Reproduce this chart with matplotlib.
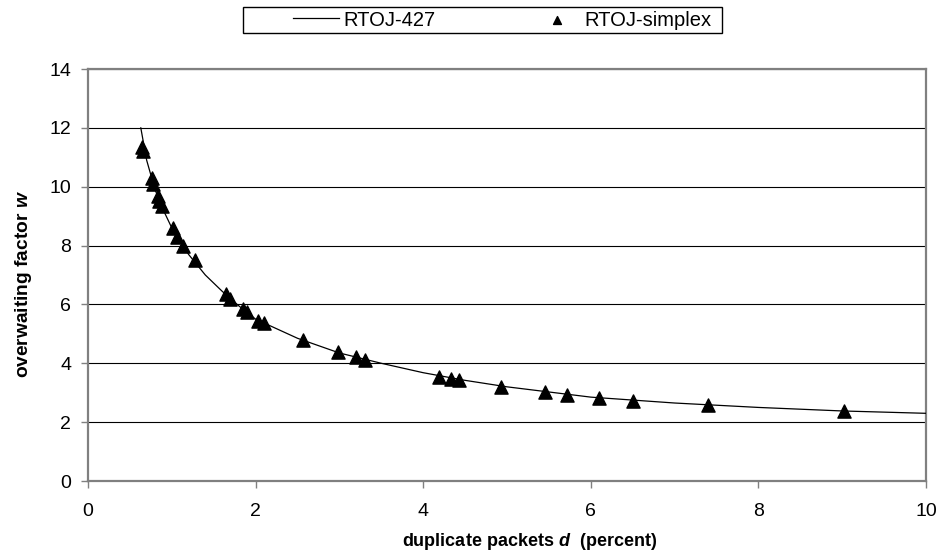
import matplotlib
matplotlib.use("Agg")
from matplotlib import pyplot as plt
from matplotlib.patches import Rectangle

# RTOJ-427 curve
curve_d = [0.63, 0.7, 0.8, 0.9, 1.0, 1.2, 1.4, 1.6, 1.8, 2.0, 2.5, 3.0,
           3.5, 4.0, 4.5, 5.0, 6.0, 7.0, 8.0, 9.0, 10.0]
curve_w = [12.0, 10.9, 9.9, 9.2, 8.6, 7.7, 7.0, 6.45, 5.95, 5.5, 4.85, 4.35,
           4.0, 3.68, 3.42, 3.2, 2.85, 2.65, 2.5, 2.38, 2.3]

# RTOJ-simplex points
simplex_d = [0.65, 0.66, 0.76, 0.78, 0.83, 0.85, 0.88, 1.01, 1.06, 1.13,
             1.28, 1.65, 1.70, 1.85, 1.90, 2.03, 2.10, 2.57, 2.98, 3.20,
             3.30, 4.19, 4.33, 4.43, 4.93, 5.45, 5.72, 6.10, 6.50, 7.40, 9.02]
simplex_w = [11.35, 11.2, 10.3, 10.1, 9.7, 9.5, 9.35, 8.6, 8.3, 8.0,
             7.5, 6.35, 6.2, 5.85, 5.75, 5.45, 5.38, 4.8, 4.37, 4.2,
             4.12, 3.55, 3.47, 3.43, 3.2, 3.02, 2.93, 2.82, 2.72, 2.58, 2.38]

plt.rcParams['font.family'] = ['Liberation Sans', 'DejaVu Sans']
plt.rcParams['mathtext.fontset'] = 'custom'
plt.rcParams['mathtext.it'] = 'Liberation Sans:italic:bold'

W, H = 941, 557
fig = plt.figure(figsize=(W / 100, H / 100), dpi=100)
ax = fig.add_axes([88 / W, 1 - 481 / H, (926 - 88) / W, (481 - 69) / H])

ax.plot(curve_d, curve_w, color='black', linewidth=0.9, label='RTOJ-427', zorder=3)
ax.scatter(simplex_d, simplex_w, marker='^', s=90, color='black',
           label='RTOJ-simplex', zorder=4)

ax.set_xlim(0, 10)
ax.set_ylim(0, 14)
ax.set_xticks(range(0, 11, 2))
ax.set_yticks(range(0, 15, 2))
ax.yaxis.grid(True, color='black', linewidth=0.8)
ax.set_axisbelow(True)
for side in ['left', 'bottom', 'right', 'top']:
    ax.spines[side].set_color('#808080')
    ax.spines[side].set_linewidth(1.6)
ax.tick_params(direction='out', length=5, width=1, color='#808080', labelsize=14)
ax.tick_params(axis='y', pad=7)
ax.tick_params(axis='x', pad=11)

ax.set_xlabel(r'duplicate packets $\mathit{d}$  (percent)', fontsize=13,
              fontweight='bold')
ax.set_ylabel(r'overwaiting factor $\mathit{w}$', fontsize=13.8,
              fontweight='bold')
ax.xaxis.set_label_coords((530 - 88) / (926 - 88), -(541 - 481) / (481 - 69))
ax.yaxis.set_label_coords(-(88 - 24) / (926 - 88), (481 - 284) / (481 - 69))
ax.xaxis.label.set_va('center')
ax.yaxis.label.set_va('center')

# legend box drawn separately to match the wide frame
fig.patches.append(Rectangle((243 / W, 1 - 33 / H), (722 - 243) / W, 26 / H,
                             transform=fig.transFigure, fill=False,
                             edgecolor='black', linewidth=1.0))
leg = fig.legend(loc='center left', bbox_to_anchor=(293 / W, 1 - 20 / H),
                 ncol=2, frameon=False, fontsize=14.5, borderpad=0,
                 borderaxespad=0, handlelength=2.3, columnspacing=4.9,
                 handletextpad=0.2, markerscale=0.6)

fig.savefig('out.png', dpi=100)
